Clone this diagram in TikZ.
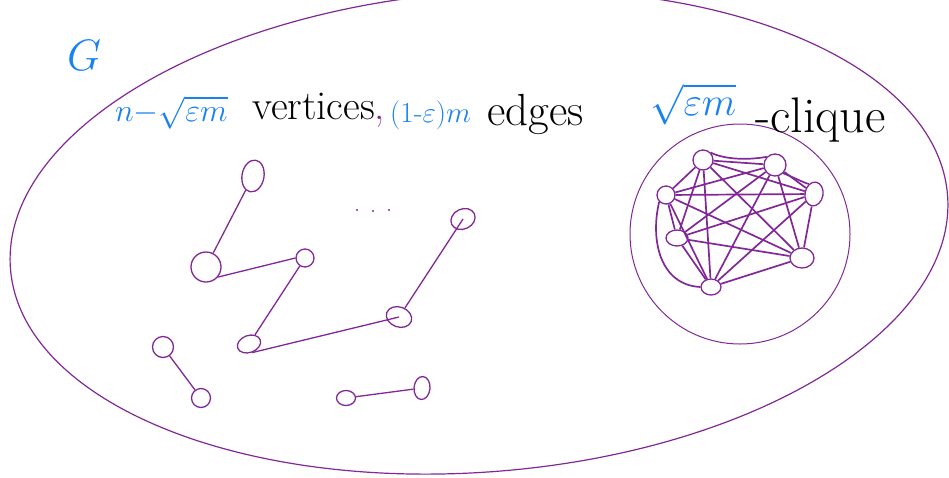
\RequirePackage{fix-cm}
\documentclass[tikz,border=0pt]{standalone}
\usetikzlibrary{shapes.geometric}
\definecolor{gpurple}{RGB}{130,40,150}
\definecolor{gblue}{RGB}{25,130,240}
\begin{document}
\begin{tikzpicture}[x=1pt,y=-1pt,
  vtx/.style={draw=gpurple, line width=1.3pt, ellipse, inner sep=0pt},
  vsz/.style 2 args={minimum width=#1pt, minimum height=#2pt},
  gedge/.style={draw=gpurple, line width=1.3pt},
  cedge/.style={draw=gpurple, line width=1.7pt},
  txt/.style={inner sep=0pt, anchor=base west}]
\useasboundingbox (0,0) rectangle (949,477);
% outer graph G
\draw[gpurple, line width=1.2pt] (479,232) ellipse [x radius=470pt, y radius=240pt, rotate=4.5];
% clique circle
\draw[gpurple, line width=1pt] (740,234) circle [radius=110pt];
% texts
\node[txt, text=gblue, font=\fontsize{44}{50}\selectfont] (G) at (67,70) {$G$};
\node[txt, text=gblue, font=\fontsize{32}{38}\selectfont] (t1) at (115,121) {$n{-}\sqrt{\varepsilon m}$};
\node[txt, font=\fontsize{41}{48}\selectfont] (t2) at (252,119) {vertices\textcolor{gpurple}{,}};
\node[txt, text=gblue, font=\fontsize{29}{34}\selectfont] (t3) at (390,122) {$(1\mbox{-}\varepsilon)m$};
\node[txt, font=\fontsize{45}{52}\selectfont] (t4) at (487,125) {edges};
\node[txt, text=gblue, font=\fontsize{40}{46}\selectfont] (t5) at (650,115) {$\sqrt{\varepsilon m}$};
\node[txt, font=\fontsize{50}{58}\selectfont] (t6) at (755,132) {-clique};
% left components
\node[vtx, vsz={22}{32}, rotate=-10] (a) at (253,176) {};
\node[vtx, vsz={30}{30}] (b) at (206,267) {};
\node[vtx, vsz={18}{18}] (c) at (305,258) {};
\node[vtx, vsz={24}{17}, rotate=20] (d) at (249,344) {};
\node[vtx, vsz={26}{20}, rotate=-20] (e) at (399,317) {};
\node[vtx, vsz={25}{20}, rotate=25] (f) at (463,219) {};
\node[vtx, vsz={21}{21}] (g) at (163,347) {};
\node[vtx, vsz={19}{19}] (h) at (201,398) {};
\node[vtx, vsz={19}{15}] (i) at (346,398) {};
\node[vtx, vsz={16}{23}, rotate=-5] (j) at (422,388) {};
\draw[gedge] (a) -- (b);
\draw[gedge] (b.-40) -- (c.west);
\draw[gedge] (c) -- (d);
\draw[gedge] (d.south) -- (e.center);
\draw[gedge] (e) -- (f.center);
\draw[gedge] (g) -- (h);
\draw[gedge] (i) -- (j);
% dots
\fill[gpurple] (357,210) circle [radius=1.2pt] (373,211) circle [radius=1.2pt] (389,210) circle [radius=1.2pt];
% clique
\node[vtx, vsz={20}{20}] (c1) at (703,160) {};
\node[vtx, vsz={22}{22}] (c2) at (775,165) {};
\node[vtx, vsz={18}{24}, rotate=-10] (c3) at (814,194) {};
\node[vtx, vsz={18}{18}] (c4) at (666,195) {};
\node[vtx, vsz={22}{16}] (c5) at (677,238) {};
\node[vtx, vsz={24}{20}] (c6) at (802,258) {};
\node[vtx, vsz={20}{16}] (c7) at (711,287) {};
\foreach \u/\v in {c1/c2,c1/c3,c1/c4,c1/c5,c1/c6,c1/c7,
                   c2/c3,c2/c4,c2/c5,c2/c6,c2/c7,
                   c3/c4,c3/c5,c3/c6,c3/c7,
                   c4/c5,c4/c6,c4/c7,
                   c5/c6,c5/c7,c6/c7}
  \draw[cedge] (\u) -- (\v);
\draw[cedge] (c1.north east) .. controls (725,160) and (750,160) .. (c2.north west);
\draw[cedge] (c2.south east) .. controls (795,178) and (802,182) .. (c3.north west);
\draw[cedge] (c4.south west) .. controls (650,240) and (660,285) .. (c7.west);
\end{tikzpicture}
\end{document}
